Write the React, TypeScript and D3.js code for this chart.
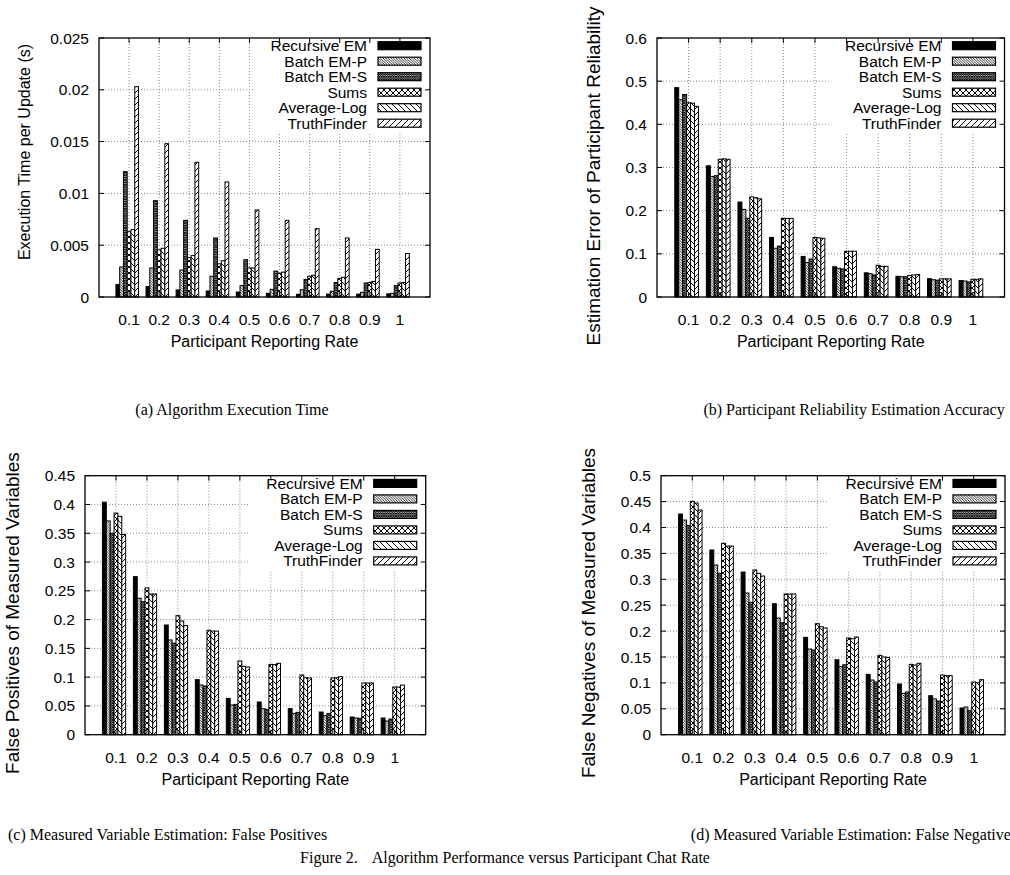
import React from 'react';
import * as d3 from 'd3';

const categories = ['0.1', '0.2', '0.3', '0.4', '0.5', '0.6', '0.7', '0.8', '0.9', '1'];
const seriesNames = ['Recursive EM', 'Batch EM-P', 'Batch EM-S', 'Sums', 'Average-Log', 'TruthFinder'];

// (a) execution time per update (s)
const timeRecursiveEM = [0.0012, 0.001, 0.00068, 0.00058, 0.00048, 0.00036, 0.00026, 0.00028, 0.00028, 0.0003];
const timeBatchEMP = [0.0029, 0.0028, 0.0026, 0.002, 0.0011, 0.00074, 0.0007, 0.00055, 0.00045, 0.00035];
const timeBatchEMS = [0.0121, 0.0093, 0.0074, 0.0057, 0.0036, 0.0025, 0.0017, 0.0014, 0.00135, 0.0011];
const timeSums = [0.0063, 0.00454, 0.0038, 0.0032, 0.0028, 0.0023, 0.002, 0.0018, 0.0014, 0.00135];
const timeAverageLog = [0.0065, 0.0047, 0.004, 0.0035, 0.0028, 0.0024, 0.0021, 0.0019, 0.0015, 0.0014];
const timeTruthFinder = [0.0203, 0.0148, 0.013, 0.0111, 0.0084, 0.0074, 0.0066, 0.0057, 0.0046, 0.0042];
const timeTicks = [0, 0.005, 0.01, 0.015, 0.02, 0.025];

// (b) estimation error of participant reliability
const relRecursiveEM = [0.485, 0.304, 0.22, 0.138, 0.094, 0.07, 0.056, 0.048, 0.0425, 0.038];
const relBatchEMP = [0.457, 0.279, 0.203, 0.113, 0.08, 0.0665, 0.054, 0.047, 0.04, 0.037];
const relBatchEMS = [0.469, 0.281, 0.1825, 0.118, 0.088, 0.065, 0.051, 0.047, 0.039, 0.035];
const relSums = [0.45, 0.319, 0.232, 0.1825, 0.138, 0.106, 0.0735, 0.05, 0.042, 0.041];
const relAverageLog = [0.449, 0.32, 0.23, 0.182, 0.137, 0.106, 0.071, 0.051, 0.042, 0.041];
const relTruthFinder = [0.4416, 0.319, 0.2274, 0.182, 0.136, 0.106, 0.071, 0.052, 0.042, 0.042];
const relTicks = [0, 0.1, 0.2, 0.3, 0.4, 0.5, 0.6];

// (c) false positives of measured variables
const fpRecursiveEM = [0.404, 0.2746, 0.1906, 0.0956, 0.0631, 0.0568, 0.0452, 0.0394, 0.0307, 0.029];
const fpBatchEMP = [0.3714, 0.237, 0.1646, 0.0863, 0.0516, 0.0452, 0.037, 0.033, 0.029, 0.0238];
const fpBatchEMS = [0.35, 0.231, 0.159, 0.0846, 0.0527, 0.044, 0.0388, 0.037, 0.0284, 0.0272];
const fpSums = [0.385, 0.255, 0.2068, 0.1814, 0.128, 0.1222, 0.1037, 0.0985, 0.0898, 0.0828];
const fpAverageLog = [0.3795, 0.2445, 0.1976, 0.18, 0.1188, 0.1217, 0.099, 0.099, 0.0898, 0.0828];
const fpTruthFinder = [0.348, 0.2445, 0.1895, 0.18, 0.1176, 0.124, 0.0985, 0.1008, 0.0898, 0.0863];
const fpTicks = [0, 0.05, 0.1, 0.15, 0.2, 0.25, 0.3, 0.35, 0.4, 0.45];

// (d) false negatives of measured variables
const fnRecursiveEM = [0.426, 0.3565, 0.314, 0.2529, 0.1879, 0.1448, 0.1165, 0.0978, 0.0753, 0.0515];
const fnBatchEMP = [0.4144, 0.3275, 0.2735, 0.2252, 0.1654, 0.1313, 0.1055, 0.0798, 0.0689, 0.0534];
const fnBatchEMS = [0.404, 0.3115, 0.2555, 0.2162, 0.1635, 0.135, 0.1017, 0.0824, 0.065, 0.0463];
const fnSums = [0.4505, 0.3694, 0.318, 0.2716, 0.2143, 0.1866, 0.1532, 0.1358, 0.1152, 0.1017];
const fnAverageLog = [0.4472, 0.3642, 0.3115, 0.2716, 0.2085, 0.1853, 0.15, 0.1345, 0.1139, 0.1004];
const fnTruthFinder = [0.4337, 0.3642, 0.3063, 0.2716, 0.206, 0.1885, 0.1493, 0.1377, 0.1139, 0.1062];
const fnTicks = [0, 0.05, 0.1, 0.15, 0.2, 0.25, 0.3, 0.35, 0.4, 0.45, 0.5];

const SANS = '"Liberation Sans", Arial, Helvetica, sans-serif';
const SERIF = '"Liberation Serif", "Times New Roman", Times, serif';
const fills = ['#000', 'url(#patP)', 'url(#patS)', 'url(#patSums)', 'url(#patAL)', 'url(#patTF)'];

const panels = [
  {
    id: 'a', left: 99, right: 430, top: 38, bottom: 297, ticks: timeTicks,
    series: [timeRecursiveEM, timeBatchEMP, timeBatchEMS, timeSums, timeAverageLog, timeTruthFinder],
    yTitle: 'Execution Time per Update (s)', yTitleX: 30, yTitleY: 152, yTitleSize: 16,
  },
  {
    id: 'b', left: 657, right: 1004.5, top: 38, bottom: 297, ticks: relTicks,
    series: [relRecursiveEM, relBatchEMP, relBatchEMS, relSums, relAverageLog, relTruthFinder],
    yTitle: 'Estimation Error of Participant Reliability', yTitleX: 600, yTitleY: 176, yTitleSize: 19,
  },
  {
    id: 'c', left: 85, right: 425.7, top: 475.7, bottom: 734.7, ticks: fpTicks,
    series: [fpRecursiveEM, fpBatchEMP, fpBatchEMS, fpSums, fpAverageLog, fpTruthFinder],
    yTitle: 'False Positives of Measured Variables', yTitleX: 19, yTitleY: 613, yTitleSize: 19,
  },
  {
    id: 'd', left: 661, right: 1005, top: 475.7, bottom: 734.7, ticks: fnTicks,
    series: [fnRecursiveEM, fnBatchEMP, fnBatchEMS, fnSums, fnAverageLog, fnTruthFinder],
    yTitle: 'False Negatives of Measured Variables', yTitleX: 595, yTitleY: 613, yTitleSize: 19,
  },
];

function Panel({ p }: { p: any }) {
  const x = d3.scaleLinear().domain([-1, categories.length]).range([p.left, p.right]);
  const y = d3.scaleLinear().domain([0, p.ticks[p.ticks.length - 1]]).range([p.bottom, p.top]);
  const step = x(1) - x(0);
  const bw = step / 8;
  const band = d3.scaleBand<string>().domain(seriesNames).range([-3.5 * bw, 2.5 * bw]).padding(0);
  const legW = 176;
  const legH = 95;
  const legLeft = p.right - legW;
  const legBottom = p.top + legH;
  const rowY = (k: number) => p.top + 7.7 + 15.5 * k;
  const grid = '#8a8a8a';
  return (
    <g>
      {p.ticks.slice(1, -1).map((t: number) => {
        const yy = y(t);
        const x2 = yy < legBottom ? legLeft : p.right;
        return <line key={'gy' + t} x1={p.left} x2={x2} y1={yy} y2={yy} stroke={grid} strokeWidth={1} strokeDasharray="1,2" />;
      })}
      {categories.map((c, i) => {
        const xx = x(i);
        const y2 = xx > legLeft ? legBottom : p.top;
        return <line key={'gx' + c} x1={xx} x2={xx} y1={p.bottom} y2={y2} stroke={grid} strokeWidth={1} strokeDasharray="1,2" />;
      })}
      {categories.map((c, i) => (
        <g key={'bar' + c}>
          {seriesNames.map((s, j) => {
            const v = p.series[j][i];
            const bx = x(i) + (band(s) as number);
            return (
              <rect key={s} x={bx} y={y(v)} width={band.bandwidth()} height={p.bottom - y(v)}
                fill={fills[j]} stroke="#000" strokeWidth={1} />
            );
          })}
        </g>
      ))}
      {seriesNames.map((s, k) => (
        <g key={'leg' + s}>
          <text x={p.right - 63} y={rowY(k) + 5.5} textAnchor="end" fontFamily={SANS} fontSize={15.5}>{s}</text>
          <rect x={p.right - 52} y={rowY(k) - 4} width={43} height={8} fill={fills[k]} stroke="#000" strokeWidth={1.2} />
        </g>
      ))}
      {p.ticks.map((t: number) => (
        <g key={'ty' + t}>
          <line x1={p.left} x2={p.left + 5} y1={y(t)} y2={y(t)} stroke="#000" strokeWidth={1} />
          <line x1={p.right - 5} x2={p.right} y1={y(t)} y2={y(t)} stroke="#000" strokeWidth={1} />
          <text x={p.left - 10} y={y(t) + 5.5} textAnchor="end" fontFamily={SANS} fontSize={15.5}>{String(t)}</text>
        </g>
      ))}
      {categories.map((c, i) => (
        <g key={'tx' + c}>
          <line x1={x(i)} x2={x(i)} y1={p.bottom} y2={p.bottom - 5} stroke="#000" strokeWidth={1} />
          <line x1={x(i)} x2={x(i)} y1={p.top} y2={p.top + 5} stroke="#000" strokeWidth={1} />
          <text x={x(i)} y={p.bottom + 28} textAnchor="middle" fontFamily={SANS} fontSize={15.5}>{c}</text>
        </g>
      ))}
      <rect x={p.left} y={p.top} width={p.right - p.left} height={p.bottom - p.top} fill="none" stroke="#000" strokeWidth={1.3} />
      <text x={(p.left + p.right) / 2} y={p.bottom + 50} textAnchor="middle" fontFamily={SANS} fontSize={16}>Participant Reporting Rate</text>
      <text transform={`translate(${p.yTitleX},${p.yTitleY}) rotate(-90)`} textAnchor="middle" fontFamily={SANS} fontSize={p.yTitleSize}>{p.yTitle}</text>
    </g>
  );
}

function diag(w: number, dir: number) {
  if (dir > 0) return `M0,0 L${w},${w} M${-w / 2},${w / 2} L${w / 2},${w * 1.5} M${w / 2},${-w / 2} L${w * 1.5},${w / 2}`;
  return `M0,${w} L${w},0 M${-w / 2},${w / 2} L${w / 2},${-w / 2} M${w / 2},${w * 1.5} L${w * 1.5},${w / 2}`;
}

export default function App() {
  return (
    <svg width={1010} height={875} style={{ position: 'absolute', left: 0, top: 0, background: '#fff' }}>
      <defs>
        <pattern id="patP" patternUnits="userSpaceOnUse" width={2.6} height={2.6}>
          <rect width={2.6} height={2.6} fill="#fff" />
          <path d={diag(2.6, 1)} stroke="#000" strokeWidth={0.8} />
        </pattern>
        <pattern id="patS" patternUnits="userSpaceOnUse" width={2.4} height={2.4}>
          <rect width={2.4} height={2.4} fill="#fff" />
          <path d={diag(2.4, 1) + ' ' + diag(2.4, -1)} stroke="#000" strokeWidth={0.9} />
        </pattern>
        <pattern id="patSums" patternUnits="userSpaceOnUse" width={6} height={6}>
          <rect width={6} height={6} fill="#fff" />
          <path d={diag(6, 1) + ' ' + diag(6, -1)} stroke="#000" strokeWidth={1} />
        </pattern>
        <pattern id="patAL" patternUnits="userSpaceOnUse" width={6} height={6}>
          <rect width={6} height={6} fill="#fff" />
          <path d={diag(6, 1)} stroke="#000" strokeWidth={1} />
        </pattern>
        <pattern id="patTF" patternUnits="userSpaceOnUse" width={6} height={6}>
          <rect width={6} height={6} fill="#fff" />
          <path d={diag(6, -1)} stroke="#000" strokeWidth={1} />
        </pattern>
      </defs>
      <rect width={1010} height={875} fill="#fff" />
      {panels.map((p) => <Panel key={p.id} p={p} />)}
      <g fontFamily={SERIF} fontSize={16}>
        <text x={232} y={415} textAnchor="middle">(a) Algorithm Execution Time</text>
        <text x={854} y={415} textAnchor="middle">(b) Participant Reliability Estimation Accuracy</text>
        <text x={8} y={840} textAnchor="start">(c) Measured Variable Estimation: False Positives</text>
        <text x={854} y={840} textAnchor="middle">(d) Measured Variable Estimation: False Negatives</text>
        <text x={505} y={863} textAnchor="middle">Figure 2.<tspan dx={14}>Algorithm Performance versus Participant Chat Rate</tspan></text>
      </g>
    </svg>
  );
}
